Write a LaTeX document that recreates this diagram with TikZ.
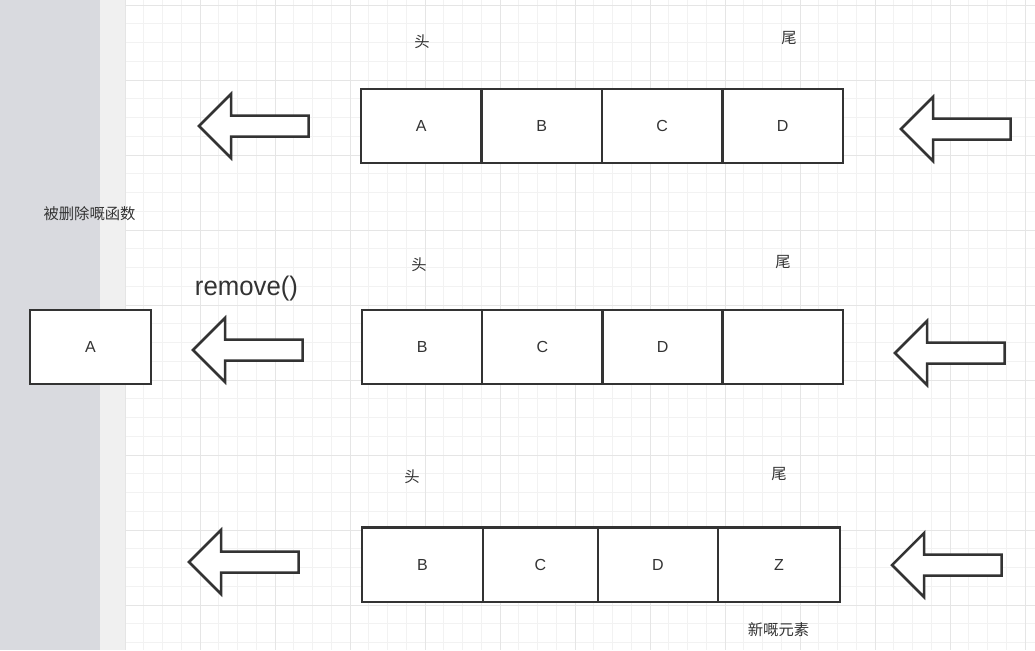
\documentclass[tikz,border=0pt]{standalone}
\usepackage{fontspec}
\setmainfont{Liberation Sans}
\newfontfamily\cjk{Noto Sans CJK SC}
\usepackage{graphicx}
\usetikzlibrary{positioning}
\definecolor{inkgray}{HTML}{333333}
\definecolor{stripgray}{HTML}{D9DADF}
\definecolor{edgegray}{HTML}{F0F0F0}
\definecolor{minorgrid}{HTML}{F2F2F2}
\definecolor{majorgrid}{HTML}{E5E5E5}
\newcommand\pxu{0.75pt}
\tikzset{pics/leftarrow/.style={code={
  \draw[arrowline] (0,0) -- (32,32) -- (32,10.5) -- (109.5,10.5) -- (109.5,-10.5) -- (32,-10.5) -- (32,-32) -- cycle;}}}

\begin{document}
\begin{tikzpicture}[x=0.75pt, y=-0.75pt, font=\fontsize{12pt}{14pt}\selectfont, text=inkgray,
  cell/.style={draw=inkgray, line width=2.5*\pxu, fill=white, inner sep=0pt, outer sep=0pt, minimum width=120.5*\pxu, minimum height=74*\pxu},
  arrowline/.style={draw=inkgray, line width=2.5*\pxu, fill=white},
  tag/.style={font=\cjk\fontsize{11.5pt}{13pt}\selectfont, inner sep=0pt}]
 \useasboundingbox (0,0) rectangle (1035,650);
 \fill[stripgray] (0,0) rectangle (100,650); \fill[edgegray] (100,0) rectangle (125,650); \fill[white] (125,0) rectangle (1035,650);
 \foreach \i in {0,...,48} \draw[minorgrid, line width=\pxu] ({125+\i*18.75},0) -- ({125+\i*18.75},650);
 \foreach \j in {0,...,34} \draw[minorgrid, line width=\pxu] (125,{5+\j*18.75}) -- (1035,{5+\j*18.75});
 \foreach \i in {0,...,12} \draw[majorgrid, line width=\pxu] ({125+\i*75},0) -- ({125+\i*75},650);
 \foreach \j in {0,...,8} \draw[majorgrid, line width=\pxu] (125,{5+\j*75}) -- (1035,{5+\j*75});
 % first row
 \node[cell] (topA) at (421.25,126) {A};
 \node[cell, right=0pt of topA] (topB) {B};
 \node[cell, right=0pt of topB] (topC) {C};
 \node[cell, right=0pt of topC] (topD) {D};
 \node[tag] (topHead) at (422,42) {头}; \node[tag] (topTail) at (789,38) {尾};
 \pic at (199,126) {leftarrow}; \pic at (901,129) {leftarrow};
 \node[tag] (removedTag) at (89.5,214) {被删除嘅函数};
 % second row
 \node[cell, minimum width=120.25*\pxu] (midB) at (422.1,347) {B};
 \node[cell, minimum width=120.25*\pxu, right=0pt of midB] (midC) {C};
 \node[cell, minimum width=120.25*\pxu, right=0pt of midC] (midD) {D};
 \node[cell, minimum width=120.25*\pxu, right=0pt of midD] (midE) {};
 \node[tag] (midHead) at (419,265) {头}; \node[tag] (midTail) at (783,262) {尾};
 \node[cell, minimum width=121*\pxu] (removedA) at (90.5,347) {A};
 \node[inner sep=0pt] (removeCall) at (246.5,288.5) {\resizebox*{77.25pt}{18.75pt}{remove()}};
 \pic at (193,350) {leftarrow}; \pic at (895,353) {leftarrow};
 % third row
 \node[cell, minimum width=121*\pxu, minimum height=74.5*\pxu] (botB) at (422.5,564.5) {B};
 \node[cell, minimum width=115*\pxu, minimum height=74.5*\pxu, right=0pt of botB] (botC) {C};
 \node[cell, minimum width=120*\pxu, minimum height=74.5*\pxu, right=0pt of botC] (botD) {D};
 \node[cell, minimum width=122*\pxu, minimum height=74.5*\pxu, right=0pt of botD] (botZ) {Z};
 \node[tag] (botHead) at (412,477) {头}; \node[tag] (botTail) at (779,474) {尾};
 \node[tag] (newTag) at (778.5,630) {新嘅元素};
 \pic at (189,562) {leftarrow}; \pic at (892,565) {leftarrow};
\end{tikzpicture}
\end{document}
